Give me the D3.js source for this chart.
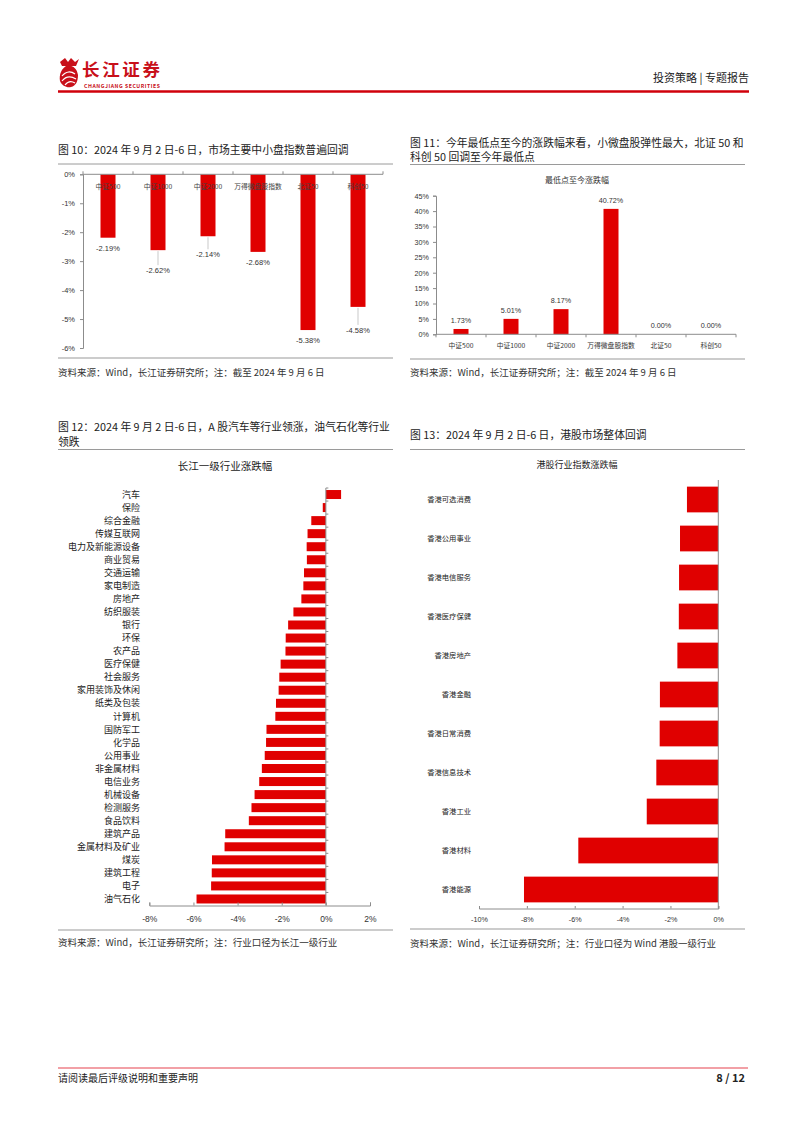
<!DOCTYPE html>
<html><head><meta charset="utf-8">
<script src="https://cdn.jsdelivr.net/npm/d3@7"></script>
<style>
body{margin:0;background:#fff;}
svg{display:block;font-family:"Noto Sans CJK SC","Noto Sans",sans-serif;}
</style>
</head><body>
<svg id="c" width="802" height="1133"></svg>
<script>
// ---------- data ----------
const c10Categories = ["中证500","中证1000","中证2000","万得微盘股指数","北证50","科创50"];
const c10Values = [-2.19,-2.62,-2.14,-2.68,-5.38,-4.58];
const c10Ticks = [0,-1,-2,-3,-4,-5,-6];

const c11Categories = ["中证500","中证1000","中证2000","万得微盘股指数","北证50","科创50"];
const c11Values = [1.73,5.01,8.17,40.72,0.00,0.00];
const c11Ticks = [0,5,10,15,20,25,30,35,40,45];

const c12Categories = ["汽车","保险","综合金融","传媒互联网","电力及新能源设备","商业贸易","交通运输","家电制造","房地产","纺织服装","银行","环保","农产品","医疗保健","社会服务","家用装饰及休闲","纸类及包装","计算机","国防军工","化学品","公用事业","非金属材料","电信业务","机械设备","检测服务","食品饮料","建筑产品","金属材料及矿业","煤炭","建筑工程","电子","油气石化"];
const c12Values = [0.69,-0.14,-0.66,-0.83,-0.87,-0.86,-0.99,-1.02,-1.11,-1.47,-1.71,-1.82,-1.83,-2.05,-2.11,-2.14,-2.26,-2.29,-2.69,-2.71,-2.77,-2.90,-3.02,-3.23,-3.37,-3.49,-4.56,-4.59,-5.16,-5.17,-5.20,-5.86];
const c12Ticks = [-8,-6,-4,-2,0,2];

const c13Categories = ["香港可选消费","香港公用事业","香港电信服务","香港医疗保健","香港房地产","香港金融","香港日常消费","香港信息技术","香港工业","香港材料","香港能源"];
const c13Values = [-1.31,-1.60,-1.64,-1.65,-1.71,-2.44,-2.45,-2.59,-2.99,-5.85,-8.12];
const c13Ticks = [-10,-8,-6,-4,-2,0];

// ---------- layout / style ----------
const RED = "#e00000";
const AX = "#8c8c8c";
const TXT = "#333";
const c10LabelDrop = [10,20,18,10,10,23];

const svg = d3.select("#c");
const pct = d => d + "%";

function text(x, y, s, size, opt = {}) {
  return svg.append("text").attr("x", x).attr("y", y).text(s)
    .attr("font-size", size).attr("fill", opt.fill || TXT)
    .attr("text-anchor", opt.anchor || "start")
    .attr("font-weight", opt.weight || "normal");
}
function hline(x1, x2, y, col, w) {
  svg.append("line").attr("x1", x1).attr("x2", x2).attr("y1", y).attr("y2", y)
    .attr("stroke", col).attr("stroke-width", w);
}

// ---------- header ----------
const logo = svg.append("g").attr("transform", "translate(57,57)");
logo.append("path").attr("d", "M11,8 C4,11 2,18 3,24 C5,29 10,31 14,30 C19,29 21,24 21,18 C20,12 17,9 11,8 Z").attr("fill", "#c8101a");
logo.append("path").attr("d", "M5,19 C9,14 14,14 18,17 M5,24 C9,19 14,19 19,22 M8,28 C11,24 15,24 18,26").attr("stroke", "#fff").attr("stroke-width", 1.2).attr("fill", "none");
logo.append("path").attr("d", "M3,5 L8,1 L11,5 L14,1 L18,5 L22,2 L19,9 L5,9 Z").attr("fill", "#c8101a");
text(82, 76, "长江证券", 17.5, {fill: "#c8101a", weight: "bold"}).attr("textLength", 78);
text(84, 87.5, "CHANGJIANG SECURITIES", 5.2, {fill: "#c8101a", weight: "bold"}).attr("textLength", 76);
text(749, 82, "投资策略 | 专题报告", 11, {anchor: "end", fill: "#222"});
hline(58, 749, 91.5, "#d0000b", 2.5);

// ---------- footer ----------
hline(58, 748, 1068, "#f2a0a6", 2);
text(58, 1082, "请阅读最后评级说明和重要声明", 10, {fill: "#222"});
text(745, 1082, "8 / 12", 11, {anchor: "end", fill: "#222", weight: "bold"});

// ---------- chart 10 ----------
text(58, 154, "图 10：2024 年 9 月 2 日-6 日，市场主要中小盘指数普遍回调", 10.8, {fill: "#222"});
hline(58, 393, 164, "#9a9a9a", 1);
hline(58, 393, 358, "#9a9a9a", 1.2);
text(58, 376, "资料来源：Wind，长江证券研究所；注：截至 2024 年 9 月 6 日", 9.5, {fill: "#333"});
{
  const x = d3.scaleBand().domain(c10Categories).range([83, 383]);
  const y = d3.scaleLinear().domain([-6, 0]).range([348, 174.3]);
  const bw = x.bandwidth() * 0.3;
  const g = svg.append("g");
  g.selectAll("rect").data(c10Values).join("rect")
    .attr("x", (d, i) => x(c10Categories[i]) + (x.bandwidth() - bw) / 2)
    .attr("y", y(0)).attr("width", bw).attr("height", d => y(d) - y(0)).attr("fill", RED);
  const ya = svg.append("g").attr("transform", `translate(83,0)`)
    .call(d3.axisLeft(y).tickValues(c10Ticks).tickFormat(pct).tickSize(3).tickPadding(5));
  ya.select(".domain").attr("stroke", AX);
  ya.selectAll(".tick line").attr("stroke", AX);
  ya.selectAll("text").attr("font-size", 7.5).attr("fill", TXT).attr("font-family", "Liberation Sans, Arial, sans-serif");
  hline(83, 383, y(0), AX, 1);
  const bounds = c10Categories.map(c => x(c)).concat([x.range()[1]]);
  g.selectAll("line.tk").data(bounds).join("line").attr("class", "tk")
    .attr("x1", d => d).attr("x2", d => d).attr("y1", y(0) - 3).attr("y2", y(0)).attr("stroke", AX);
  g.selectAll("text.cat").data(c10Categories).join("text").attr("class", "cat")
    .attr("x", d => x(d) + x.bandwidth() / 2).attr("y", y(0) + 14.5).text(d => d)
    .attr("text-anchor", "middle").attr("font-size", 6.8).attr("fill", "#404040");
  c10Values.forEach((v, i) => {
    const cx = x(c10Categories[i]) + x.bandwidth() / 2;
    const ly = y(v) + c10LabelDrop[i];
    if (c10LabelDrop[i] > 12) {
      g.append("line").attr("x1", cx).attr("x2", cx).attr("y1", y(v) + 1).attr("y2", ly - 5)
        .attr("stroke", "#bbb").attr("stroke-width", 0.8);
    }
    g.append("text").attr("x", cx).attr("y", ly + 3).text(v.toFixed(2) + "%")
      .attr("text-anchor", "middle").attr("font-size", 7.5).attr("fill", TXT)
      .attr("font-family", "Liberation Sans, Arial, sans-serif");
  });
}

// ---------- chart 11 ----------
text(410, 147, "图 11：今年最低点至今的涨跌幅来看，小微盘股弹性最大，北证 50 和", 10.8, {fill: "#222"});
text(410, 161, "科创 50 回调至今年最低点", 10.8, {fill: "#222"});
hline(410, 745, 164.5, "#9a9a9a", 1);
hline(410, 745, 359, "#9a9a9a", 1.2);
text(410, 376, "资料来源：Wind，长江证券研究所；注：截至 2024 年 9 月 6 日", 9.5, {fill: "#333"});
{
  text(577, 183, "最低点至今涨跌幅", 8, {anchor: "middle", fill: "#333"});
  const x = d3.scaleBand().domain(c11Categories).range([436, 736]);
  const y = d3.scaleLinear().domain([0, 45]).range([334.3, 195.7]);
  const bw = x.bandwidth() * 0.3;
  const g = svg.append("g");
  g.selectAll("rect").data(c11Values).join("rect")
    .attr("x", (d, i) => x(c11Categories[i]) + (x.bandwidth() - bw) / 2)
    .attr("y", d => y(d)).attr("width", bw).attr("height", d => y(0) - y(d)).attr("fill", RED);
  const ya = svg.append("g").attr("transform", `translate(436,0)`)
    .call(d3.axisLeft(y).tickValues(c11Ticks).tickFormat(pct).tickSize(3).tickPadding(4));
  ya.select(".domain").attr("stroke", AX);
  ya.selectAll(".tick line").attr("stroke", AX);
  ya.selectAll("text").attr("font-size", 7.2).attr("fill", TXT).attr("font-family", "Liberation Sans, Arial, sans-serif");
  hline(436, 736, y(0), AX, 1);
  const bounds = c11Categories.map(c => x(c)).concat([x.range()[1]]);
  g.selectAll("line.tk").data(bounds).join("line").attr("class", "tk")
    .attr("x1", d => d).attr("x2", d => d).attr("y1", y(0)).attr("y2", y(0) + 3).attr("stroke", AX);
  g.selectAll("text.cat").data(c11Categories).join("text").attr("class", "cat")
    .attr("x", d => x(d) + x.bandwidth() / 2).attr("y", y(0) + 14).text(d => d)
    .attr("text-anchor", "middle").attr("font-size", 6.8).attr("fill", "#333");
  g.selectAll("text.val").data(c11Values).join("text").attr("class", "val")
    .attr("x", (d, i) => x(c11Categories[i]) + x.bandwidth() / 2).attr("y", d => y(d) - 6)
    .text(d => d.toFixed(2) + "%").attr("text-anchor", "middle").attr("font-size", 7.2)
    .attr("fill", TXT).attr("font-family", "Liberation Sans, Arial, sans-serif");
}

// ---------- chart 12 ----------
text(58, 431, "图 12：2024 年 9 月 2 日-6 日，A 股汽车等行业领涨，油气石化等行业", 10.8, {fill: "#222"});
text(58, 446, "领跌", 10.8, {fill: "#222"});
hline(58, 393, 449.5, "#9a9a9a", 1);
hline(58, 393, 930, "#9a9a9a", 1.2);
text(58, 946, "资料来源：Wind，长江证券研究所；注：行业口径为长江一级行业", 9.5, {fill: "#333"});
{
  text(225, 469.5, "长江一级行业涨跌幅", 10.5, {anchor: "middle", fill: "#222"});
  const x = d3.scaleLinear().domain([-8, 2]).range([149.3, 370]);
  const y = d3.scaleBand().domain(c12Categories).range([488, 905.5]);
  const bh = 9;
  const g = svg.append("g");
  g.selectAll("rect").data(c12Values).join("rect")
    .attr("x", d => x(Math.min(0, d))).attr("width", d => Math.abs(x(d) - x(0)))
    .attr("y", (d, i) => y(c12Categories[i]) + (y.bandwidth() - bh) / 2).attr("height", bh)
    .attr("fill", RED);
  const xa = svg.append("g").attr("transform", `translate(0,905.5)`)
    .call(d3.axisBottom(x).tickValues(c12Ticks).tickFormat(pct).tickSize(-3).tickPadding(0));
  xa.select(".domain").attr("stroke", AX);
  xa.selectAll(".tick line").attr("stroke", AX);
  xa.selectAll("text").attr("y", 16).attr("dy", 0).attr("font-size", 8.5).attr("fill", TXT)
    .attr("font-family", "Liberation Sans, Arial, sans-serif");
  svg.append("line").attr("x1", x(0)).attr("x2", x(0)).attr("y1", 488).attr("y2", 905.5).attr("stroke", AX);
  const bounds = c12Categories.map(c => y(c));
  g.selectAll("line.tk").data(bounds).join("line").attr("class", "tk")
    .attr("x1", x(0)).attr("x2", x(0) + 2.5).attr("y1", d => d).attr("y2", d => d).attr("stroke", AX);
  g.selectAll("text.cat").data(c12Categories).join("text").attr("class", "cat")
    .attr("x", 140).attr("y", d => y(d) + y.bandwidth() / 2 + 3.2).text(d => d)
    .attr("text-anchor", "end").attr("font-size", 9).attr("fill", "#222");
}

// ---------- chart 13 ----------
text(410, 439, "图 13：2024 年 9 月 2 日-6 日，港股市场整体回调", 10.8, {fill: "#222"});
hline(410, 745, 449.5, "#9a9a9a", 1);
hline(410, 745, 929, "#9a9a9a", 1.2);
text(410, 946.5, "资料来源：Wind，长江证券研究所；注：行业口径为 Wind 港股一级行业", 9.5, {fill: "#333"});
{
  text(577, 467.5, "港股行业指数涨跌幅", 9, {anchor: "middle", fill: "#222"});
  const x = d3.scaleLinear().domain([-10, 0]).range([479, 718.3]);
  const y = d3.scaleBand().domain(c13Categories).range([480, 909]).paddingInner(0.34).paddingOuter(0.17);
  const g = svg.append("g");
  g.selectAll("rect").data(c13Values).join("rect")
    .attr("x", d => x(d)).attr("width", d => x(0) - x(d))
    .attr("y", (d, i) => y(c13Categories[i])).attr("height", y.bandwidth())
    .attr("fill", RED);
  const xa = svg.append("g").attr("transform", `translate(0,908.5)`)
    .call(d3.axisBottom(x).tickValues(c13Ticks).tickFormat(pct).tickSize(-2.5).tickPadding(0));
  xa.select(".domain").attr("stroke", AX);
  xa.selectAll(".tick line").attr("stroke", AX);
  xa.selectAll("text").attr("y", 13.5).attr("dy", 0).attr("font-size", 7.2).attr("fill", TXT)
    .attr("font-family", "Liberation Sans, Arial, sans-serif");
  svg.append("line").attr("x1", x(0)).attr("x2", x(0)).attr("y1", 480).attr("y2", 908.5).attr("stroke", AX);
  g.selectAll("text.cat").data(c13Categories).join("text").attr("class", "cat")
    .attr("x", 471).attr("y", d => y(d) + y.bandwidth() / 2 + 2.6).text(d => d)
    .attr("text-anchor", "end").attr("font-size", 7.3).attr("fill", "#222");
}
</script>
</body></html>
